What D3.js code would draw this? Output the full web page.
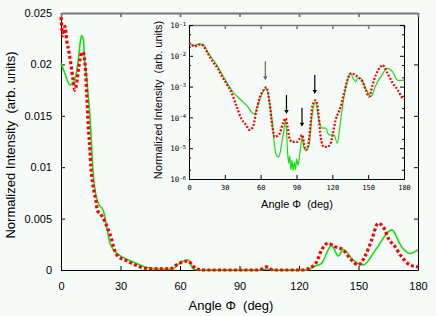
<!DOCTYPE html>
<html>
<head>
<meta charset="utf-8">
<script src="https://cdn.jsdelivr.net/npm/d3@7.9.0/dist/d3.min.js"></script>
<style>
  body { margin: 0; background: #f6fbf8; }
  svg { display: block; }
  text { font-family: "Liberation Sans", Arial, sans-serif; fill: #000; }
  .mono text { font-family: "DejaVu Sans Mono", monospace; }
</style>
</head>
<body>
<svg id="chart" width="436" height="316"></svg>
<script>
// Main panel: [angle (deg), normalized intensity]
const mainGreen = [
  [0, 0.0201], [2, 0.0191], [4.5, 0.0180], [7.1, 0.01865], [8.7, 0.0204], [9.6, 0.0220],
  [10.4, 0.0228], [11.3, 0.0224], [11.8, 0.0207], [12.9, 0.0188], [13.8, 0.0168],
  [14.6, 0.0150], [15.1, 0.0133], [16, 0.0100], [17.1, 0.0078], [18.8, 0.0065],
  [21.3, 0.0058], [23, 0.0042], [24.7, 0.0026], [27.2, 0.0018], [30.6, 0.0013],
  [37.3, 0.0007], [42.3, 0.0003], [50, 0.0001], [56, 0.0001], [60.8, 0.0008],
  [64.2, 0.00097], [66.7, 0.0001], [70, 0], [100, 0], [104, 0.0001], [108, 0],
  [124, 0], [127, 0.0003], [131.4, 0.00065], [136.4, 0.0024], [139.8, 0.00136],
  [142.3, 0.0020], [147.3, 0.00097], [152.4, 0.0005], [159.1, 0.0021], [166.7, 0.0039],
  [171.7, 0.00227], [175.9, 0.0016], [180, 0.00195]
];
const mainRed = [
  [0, 0.0246], [1, 0.0228], [2, 0.0237], [3, 0.0222], [4, 0.0212], [5, 0.0200],
  [6, 0.0186], [7, 0.0175], [8, 0.0183], [9, 0.0198], [10, 0.0209], [11, 0.0212],
  [12, 0.0203], [12.5, 0.0190], [13, 0.0170], [13.5, 0.0150], [14, 0.0133],
  [14.6, 0.0117], [15.1, 0.0100], [16, 0.0084], [16.8, 0.0075], [17.6, 0.0068],
  [18.3, 0.0058], [19.7, 0.0055], [22.2, 0.0047], [23.8, 0.0039], [25.2, 0.0032],
  [26.4, 0.0023], [28.9, 0.0013], [32.3, 0.00097], [37.3, 0.0005], [42.3, 0.00017],
  [48, 0.0001], [55, 0.0001], [58.3, 0.0005], [60.8, 0.00075], [64.2, 0.00088],
  [66, 0.0005], [68.4, 0.0001], [72, 0], [100, 0], [103.7, 0.0003], [107, 0],
  [122, 0], [125.5, 0.0002], [128.9, 0.0008], [131.4, 0.00195], [134.7, 0.0026],
  [138.1, 0.00227], [142.3, 0.00195], [145.7, 0.00114], [149.9, 0.0005],
  [153.2, 0.0013], [156.6, 0.0029], [159.9, 0.00454], [163.3, 0.0039], [165, 0.0031],
  [168.3, 0.0023], [171.7, 0.0013], [175.9, 0.0005], [180, 0.0003]
];

// Inset panel (log scale)
const insetGreen = [
  [0, 2.5e-2], [4, 2.19e-2], [8, 2.4e-2], [11.5, 2.4e-2], [15.7, 1.32e-2], [19.9, 7.6e-3],
  [24.1, 4.5e-3], [27, 2.8e-3], [31, 1.5e-3], [36.7, 6.8e-4], [43.7, 3.6e-4],
  [49.3, 2.2e-4], [53, 1.4e-4], [55, 1.3e-4], [57, 2.0e-4], [59.1, 3.6e-4],
  [62, 6.8e-4], [64.8, 8.7e-4], [67.5, 2.9e-4], [69.8, 6.5e-5], [71.7, 1.1e-5],
  [73.5, 5.6e-6], [75, 5.2e-6], [76.5, 7.9e-6], [78, 1.8e-5], [79.5, 4.0e-5],
  [80.7, 7.9e-5], [81.7, 3.2e-5], [82.5, 7.9e-6], [83.5, 3.2e-6], [84.3, 5.6e-6],
  [85.3, 2.0e-6], [86.3, 4.0e-6], [87.2, 1.9e-6], [88.2, 3.5e-6], [89.2, 2.0e-6],
  [90.2, 4.5e-6], [91.3, 2.8e-6], [93, 7.9e-6], [94.8, 2.3e-5], [96, 1.1e-5],
  [97.6, 8.7e-6], [100.3, 1.1e-5], [103.2, 1.35e-4], [106, 3.2e-4], [108.7, 8.3e-5],
  [111.6, 4.5e-5], [114.4, 4.5e-5], [117.2, 2.7e-5], [121.4, 2.7e-5], [124.2, 1.45e-5],
  [127, 8.3e-5], [129.8, 4.7e-4], [132.6, 1.6e-3], [135.4, 2.7e-3], [137.5, 1.8e-3],
  [139.6, 1.45e-3], [141.5, 1.9e-3], [143.8, 1.85e-3], [148, 8.7e-4], [152.2, 4.7e-4],
  [156.4, 1.1e-3], [160.6, 2.1e-3], [166.2, 3.9e-3], [170.5, 3.0e-3], [174.7, 1.6e-3],
  [178.9, 1.6e-3], [180, 1.65e-3]
];
const insetRed = [
  [0, 2.6e-2], [2, 2.4e-2], [4.5, 2.0e-2], [7, 2.2e-2], [10, 2.35e-2], [12, 2.1e-2],
  [15.7, 1.2e-2], [19.9, 6.5e-3], [24.1, 3.9e-3], [27, 2.4e-3], [31, 1.3e-3],
  [35.3, 6.8e-4], [39.5, 2.5e-4], [43.7, 9.3e-5], [47.9, 5.6e-5], [50.7, 3.9e-5],
  [53.6, 5.0e-5], [56.3, 1.55e-4], [59.1, 4.2e-4], [62.5, 7.8e-4], [64.8, 9.5e-4],
  [67.5, 2.9e-4], [69.8, 5.0e-5], [71.7, 2.3e-5], [74, 2.5e-5], [75.9, 3.0e-5],
  [78.8, 6.5e-5], [81, 9.3e-5], [82.5, 5.0e-5], [84.4, 1.9e-5], [86.5, 1.6e-5],
  [88.6, 1.6e-5], [90.5, 1.6e-5], [92.5, 2.0e-5], [94.8, 2.7e-5], [96.5, 1.25e-5],
  [98, 8.7e-6], [99.5, 1.1e-5], [101.8, 6.3e-5], [103.2, 2.2e-4], [106, 3.6e-4],
  [108.7, 1.05e-4], [110.2, 2.3e-5], [113, 1.1e-5], [115.8, 1.1e-5], [118.6, 1.45e-5],
  [122.8, 8.3e-5], [127, 2.2e-4], [129.8, 6.0e-4], [132.6, 1.6e-3], [135.4, 2.7e-3],
  [141, 2.1e-3], [145.2, 1.45e-3], [148, 7.8e-4], [150.8, 4.7e-4], [153.6, 1.1e-3],
  [156.4, 2.4e-3], [160.6, 4.5e-3], [162, 5.0e-3], [166.2, 2.7e-3], [170.5, 1.3e-3],
  [174.7, 7.8e-4], [178.9, 4.2e-4], [180, 4.0e-4]
];

// Arrows in the inset: [angle, intensity at arrow tip]
const insetArrows = [[63.9, 1.6e-3], [81.6, 1.3e-4], [94.6, 5.0e-5], [105.3, 5.8e-4]];

// Ticks and labels
const angleTicks = [0, 30, 60, 90, 120, 150, 180];
const mainYTicks = [0, 0.005, 0.01, 0.015, 0.02, 0.025];
const mainYLabels = ['0', '0.005', '0.01', '0.015', '0.02', '0.025'];
const insetDecades = [1e-6, 1e-5, 1e-4, 1e-3, 1e-2, 1e-1];
const insetExponents = ['-6', '-5', '-4', '-3', '-2', '-1'];
const insetMinor = [2e-6, 5e-6, 2e-5, 5e-5, 2e-4, 5e-4, 2e-3, 5e-3, 2e-2, 5e-2];

const svg = d3.select('#chart');

// Scales
const x = d3.scaleLinear().domain([0, 180]).range([61, 418]);
const y = d3.scaleLinear().domain([0, 0.025]).range([270, 13]);
const xi = d3.scaleLinear().domain([0, 180]).range([189, 404]);
const yi = d3.scaleLog().domain([1e-6, 1e-1]).range([179, 25]);

// Helper to style an axis group
function styleAxis(g, color = '#000', width = 1) {
  g.selectAll('path, line').attr('stroke', color).attr('stroke-width', width);
  g.selectAll('text').style('font-family', null);
  g.attr('font-family', null);
  return g;
}

// Main axes
svg.append('g')
  .attr('transform', 'translate(0,270)')
  .call(d3.axisBottom(x).tickValues(angleTicks).tickSize(-4).tickSizeOuter(0).tickPadding(12))
  .call(styleAxis)
  .attr('font-size', 11);

svg.append('g')
  .attr('transform', 'translate(61,0)')
  .call(d3.axisLeft(y).tickValues(mainYTicks).tickSize(-4).tickSizeOuter(0).tickPadding(9)
    .tickFormat((d, i) => mainYLabels[i]))
  .call(styleAxis)
  .attr('font-size', 11);

svg.append('g')
  .attr('transform', 'translate(418,0)')
  .call(d3.axisRight(y).tickValues(mainYTicks).tickSize(-4).tickSizeOuter(0).tickFormat(''))
  .call(styleAxis);

svg.append('g')
  .attr('transform', 'translate(0,13)')
  .call(d3.axisTop(x).tickValues(angleTicks).tickSize(-4).tickSizeOuter(0).tickFormat(''))
  .call(g => styleAxis(g, '#777', 1.8));

// Main curves
const mainLine = d3.line().x(d => x(d[0])).y(d => y(d[1])).curve(d3.curveMonotoneX);

svg.append('path')
  .datum(mainGreen)
  .attr('d', mainLine)
  .attr('fill', 'none')
  .attr('stroke', '#14e014')
  .attr('stroke-width', 1.6);

svg.append('path')
  .datum(mainRed)
  .attr('d', mainLine)
  .attr('fill', 'none')
  .attr('stroke', '#ff0000')
  .attr('stroke-width', 3.2)
  .attr('stroke-dasharray', '3,2.3');

// Main labels
svg.append('text')
  .attr('x', 231).attr('y', 310)
  .attr('text-anchor', 'middle')
  .attr('font-size', 13)
  .text('Angle \u03A6  (deg)')
  .style('white-space', 'pre');

svg.append('text')
  .attr('transform', 'translate(15,145) rotate(-90)')
  .attr('text-anchor', 'middle')
  .attr('font-size', 13)
  .style('white-space', 'pre')
  .text('Normalized Intensity  (arb. units)');

// Inset axes
const insetBottom = svg.append('g')
  .attr('class', 'mono')
  .attr('transform', 'translate(0,179)')
  .call(d3.axisBottom(xi).tickValues(angleTicks).tickSize(-4).tickSizeOuter(0).tickPadding(6))
  .call(styleAxis)
  .attr('font-size', 7);

svg.append('g')
  .attr('transform', 'translate(0,25)')
  .call(d3.axisTop(xi).tickValues(angleTicks).tickSize(-4).tickSizeOuter(0).tickFormat(''))
  .call(g => styleAxis(g, '#777', 1.5));

const insetLeft = svg.append('g')
  .attr('class', 'mono')
  .attr('transform', 'translate(189,0)')
  .call(d3.axisLeft(yi).tickValues(insetDecades).tickSize(-4).tickSizeOuter(0).tickPadding(3)
    .tickFormat(() => ''))
  .call(styleAxis)
  .attr('font-size', 7.5);

// Rebuild decade labels as 10 with superscript exponent
insetLeft.selectAll('.tick text').each(function (d, i) {
  const t = d3.select(this).attr('dy', '0.35em');
  t.append('tspan').text('10');
  t.append('tspan').attr('font-size', 5.5).attr('dy', '-0.45em').text(insetExponents[i]);
});

svg.append('g')
  .attr('transform', 'translate(189,0)')
  .call(d3.axisLeft(yi).tickValues(insetMinor).tickSize(-2).tickSizeOuter(0).tickFormat(''))
  .call(styleAxis);

svg.append('g')
  .attr('transform', 'translate(404,0)')
  .call(d3.axisRight(yi).tickValues(insetDecades).tickSize(-4).tickSizeOuter(0).tickFormat(''))
  .call(styleAxis);

svg.append('g')
  .attr('transform', 'translate(404,0)')
  .call(d3.axisRight(yi).tickValues(insetMinor).tickSize(-2).tickSizeOuter(0).tickFormat(''))
  .call(styleAxis);

// Inset curves
const insetLine = d3.line().x(d => xi(d[0])).y(d => yi(d[1])).curve(d3.curveMonotoneX);

svg.append('path')
  .datum(insetGreen)
  .attr('d', insetLine)
  .attr('fill', 'none')
  .attr('stroke', '#14e014')
  .attr('stroke-width', 1.2);

svg.append('path')
  .datum(insetRed)
  .attr('d', insetLine)
  .attr('fill', 'none')
  .attr('stroke', '#ff0000')
  .attr('stroke-width', 2.2)
  .attr('stroke-dasharray', '2,1.6');

// Arrows pointing down at the peaks
const arrows = svg.append('g')
  .selectAll('g')
  .data(insetArrows)
  .join('g')
  .attr('transform', d => `translate(${xi(d[0])},${yi(d[1])})`)
  .attr('stroke', (d, i) => (i === 0 ? '#666' : '#000'))
  .attr('fill', (d, i) => (i === 0 ? '#666' : '#000'));

arrows.append('line')
  .attr('x1', 0).attr('x2', 0)
  .attr('y1', -19).attr('y2', -3)
  .attr('stroke-width', 1.2);

arrows.append('path')
  .attr('d', 'M-2.2,-4L2.2,-4L0,0Z')
  .attr('stroke', 'none');

// Inset labels
svg.append('text')
  .attr('x', 297).attr('y', 208)
  .attr('text-anchor', 'middle')
  .attr('font-size', 11)
  .style('white-space', 'pre')
  .text('Angle \u03A6  (deg)');

svg.append('text')
  .attr('transform', 'translate(162,100) rotate(-90)')
  .attr('text-anchor', 'middle')
  .attr('font-size', 11)
  .style('white-space', 'pre')
  .text('Normalized Intensity  (arb. units)');
</script>
</body>
</html>
